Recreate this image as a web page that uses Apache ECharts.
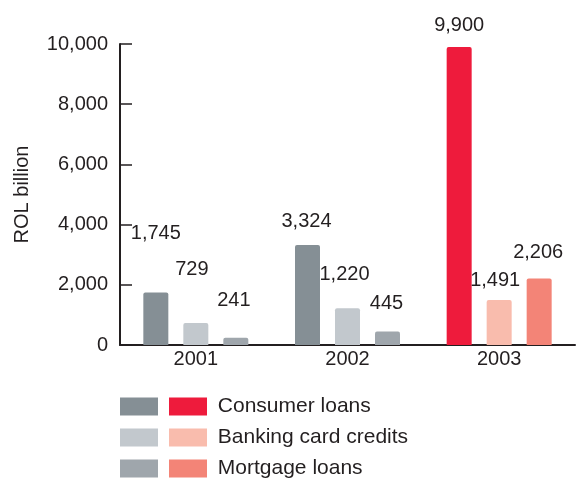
<!DOCTYPE html>
<html>
<head>
<meta charset="utf-8">
<script src="https://cdn.jsdelivr.net/npm/echarts@6/dist/echarts.min.js"></script>
<style>html,body{margin:0;padding:0;background:#fff}#c{width:576px;height:480px}</style>
</head>
<body>
<div id="c"></div>
<script>
const years = ['2001', '2002', '2003'];
const seriesNames = ['Consumer loans', 'Banking card credits', 'Mortgage loans'];
const consumerLoans = [1745, 3324, 9900];
const bankingCardCredits = [729, 1220, 1491];
const mortgageLoans = [241, 445, 2206];
const yTicks = [0, 2000, 4000, 6000, 8000, 10000];

// styling
const greyColors = ['#858f95', '#c2c8cd', '#9fa6ac'];
const redColors = ['#ee1b3c', '#f9bcad', '#f38477'];
const textColor = '#231f20';
const font = 'Liberation Sans';
// label placement tweaks per series, per category: [dx, distance]
const labelPlace = [
  [[0, 49], [-1, 13], [0, 12]],
  [[-4, 44], [-3, 24], [-4, 10]],
  [[-2, 27], [-1, 18], [-1, 16]]
];

const values = [consumerLoans, bankingCardCredits, mortgageLoans];
const fmt = v => Number(v).toLocaleString('en-US');

const series = [];
values.forEach((arr, s) => {
  const mk = (isRed) => ({
    type: 'bar',
    name: isRed ? seriesNames[s] : seriesNames[s] + ' ',
    stack: 's' + s,
    barWidth: 25,
    barGap: '60%',
    itemStyle: { color: isRed ? redColors[s] : greyColors[s], borderRadius: [2, 2, 0, 0] },
    data: arr.map((v, i) => {
      const inGroup = isRed ? i === 2 : i < 2;
      if (!inGroup) return '-';
      return {
        value: v,
        label: {
          show: true,
          position: 'top',
          distance: labelPlace[s][i][1],
          offset: [labelPlace[s][i][0], 0],
          formatter: p => fmt(p.value),
          color: textColor,
          fontSize: 20,
          fontFamily: font
        }
      };
    })
  });
  series.push(mk(false));
  series.push(mk(true));
});

const legendRowTops = [396, 427, 458];
const legends = seriesNames.map((n, s) => ({
  data: [n + ' ', n],
  orient: 'horizontal', left: 120, top: legendRowTops[s],
  padding: 0,
  itemWidth: 38, itemHeight: 18, itemGap: 6,
  icon: 'rect', selectedMode: false,
  formatter: name => name.endsWith(' ') ? '' : ' ' + name,
  textStyle: { fontSize: 21, lineHeight: 18, color: textColor, fontFamily: font }
}));

const chart = echarts.init(document.getElementById('c'), null, { renderer: 'canvas' });
chart.setOption({
  animation: false,
  backgroundColor: '#fff',
  grid: { left: 120, right: 1, top: 44, bottom: 135 },
  legend: legends,
  xAxis: {
    type: 'category',
    data: years,
    axisLine: { lineStyle: { color: textColor, width: 2 } },
    axisTick: { inside: true, length: 7, lineStyle: { color: textColor, width: 1.5 } },
    axisLabel: { color: textColor, fontSize: 20, fontFamily: font, margin: 4 }
  },
  yAxis: {
    type: 'value',
    min: yTicks[0], max: yTicks[yTicks.length - 1], interval: yTicks[1] - yTicks[0],
    name: 'ROL billion',
    nameLocation: 'middle',
    nameGap: 88,
    nameTextStyle: { color: textColor, fontSize: 20, fontFamily: font },
    axisLine: { show: true, lineStyle: { color: textColor, width: 2 } },
    axisTick: { show: true, inside: true, length: 12, lineStyle: { color: textColor, width: 1.5 } },
    splitLine: { show: false },
    axisLabel: { color: textColor, fontSize: 20, fontFamily: font, margin: 12, formatter: v => fmt(v) }
  },
  series: series
});
</script>
</body>
</html>
